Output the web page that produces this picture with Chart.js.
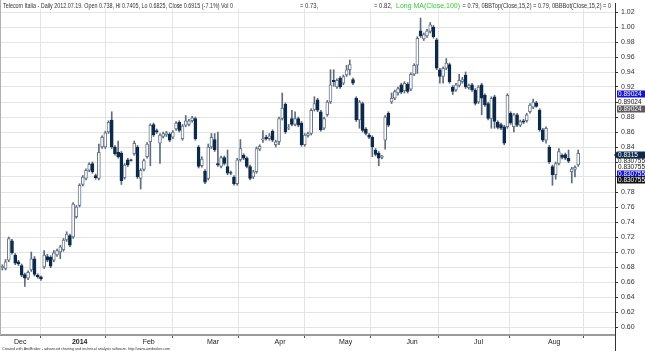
<!DOCTYPE html>
<html>
<head>
<meta charset="utf-8">
<script src="https://cdn.jsdelivr.net/npm/chart.js@4.4.1/dist/chart.umd.min.js"></script>
<style>
  html, body { margin: 0; padding: 0; background: #fff; }
</style>
</head>
<body>
<canvas id="chart" width="645" height="351"></canvas>
<script>
// daily candles, late Nov 2013 .. mid Aug 2014 (one entry per trading day)
var opens = [
  0.679,0.678,0.689,0.715,0.696,0.687,0.682,0.670,0.665,0.676,
  0.691,0.669,0.667,0.680,0.694,0.693,0.689,0.696,0.700,0.703,
  0.716,0.722,0.720,0.747,0.762,0.790,0.798,0.809,0.818,0.802,
  0.798,0.840,0.840,0.860,0.876,0.840,0.833,0.832,0.799,0.823,
  0.823,0.831,0.840,0.798,0.810,0.827,0.847,0.870,0.862,0.845,
  0.854,0.856,0.857,0.853,0.864,0.873,0.851,0.869,0.870,0.875,
  0.878,0.840,0.815,0.808,0.798,0.840,0.850,0.818,0.814,0.826,
  0.814,0.806,0.800,0.791,0.823,0.829,0.825,0.814,0.800,0.807,
  0.837,0.849,0.853,0.851,0.861,0.843,0.847,0.878,0.897,0.865,
  0.878,0.870,0.878,0.872,0.843,0.855,0.858,0.890,0.903,0.887,
  0.865,0.883,0.900,0.929,0.920,0.932,0.925,0.936,0.943,0.930,
  0.905,0.876,0.898,0.864,0.856,0.853,0.836,0.832,0.826,0.849,
  0.885,0.900,0.905,0.912,0.923,0.915,0.924,0.917,0.937,0.949,
  0.995,0.984,0.988,0.994,1.000,0.983,0.943,0.934,0.945,0.950,
  0.920,0.916,0.922,0.927,0.936,0.919,0.923,0.916,0.900,0.923,
  0.909,0.898,0.878,0.907,0.873,0.870,0.867,0.867,0.885,0.867,
  0.883,0.869,0.875,0.875,0.887,0.893,0.899,0.889,0.863,0.849,
  0.840,0.814,0.803,0.818,0.829,0.830,0.825,0.807,0.810,0.816
];
var highs = [
  0.683,0.690,0.720,0.717,0.698,0.689,0.684,0.672,0.675,0.700,
  0.694,0.671,0.668,0.702,0.697,0.695,0.702,0.704,0.709,0.718,
  0.727,0.724,0.766,0.762,0.791,0.802,0.811,0.819,0.820,0.804,
  0.844,0.855,0.861,0.875,0.887,0.842,0.848,0.834,0.818,0.825,
  0.824,0.848,0.842,0.811,0.824,0.846,0.871,0.872,0.864,0.858,
  0.860,0.861,0.859,0.862,0.874,0.875,0.870,0.882,0.877,0.881,
  0.880,0.842,0.827,0.810,0.844,0.858,0.858,0.860,0.828,0.828,
  0.836,0.808,0.802,0.825,0.850,0.831,0.827,0.816,0.809,0.840,
  0.843,0.862,0.856,0.858,0.863,0.849,0.880,0.912,0.899,0.870,
  0.889,0.887,0.880,0.874,0.858,0.860,0.891,0.907,0.905,0.889,
  0.880,0.902,0.943,0.943,0.931,0.934,0.936,0.949,0.956,0.932,
  0.907,0.902,0.900,0.866,0.858,0.855,0.838,0.834,0.829,0.882,
  0.887,0.912,0.916,0.920,0.925,0.927,0.926,0.939,0.951,0.987,
  1.012,0.992,0.997,1.006,1.002,0.985,0.945,0.947,0.958,0.952,
  0.922,0.925,0.937,0.933,0.940,0.924,0.925,0.918,0.922,0.925,
  0.911,0.900,0.907,0.909,0.875,0.872,0.869,0.911,0.887,0.885,
  0.885,0.876,0.877,0.885,0.898,0.904,0.901,0.891,0.865,0.867,
  0.842,0.816,0.820,0.838,0.831,0.832,0.836,0.813,0.815,0.836
];
var lows = [
  0.676,0.676,0.687,0.697,0.683,0.682,0.667,0.654,0.663,0.674,
  0.668,0.665,0.662,0.678,0.687,0.679,0.687,0.694,0.691,0.701,
  0.714,0.707,0.718,0.745,0.760,0.788,0.796,0.807,0.805,0.797,
  0.796,0.838,0.838,0.858,0.838,0.829,0.825,0.790,0.797,0.814,
  0.821,0.829,0.798,0.784,0.808,0.825,0.815,0.854,0.858,0.818,
  0.852,0.854,0.847,0.851,0.862,0.860,0.849,0.867,0.868,0.873,
  0.849,0.812,0.813,0.791,0.796,0.838,0.834,0.814,0.812,0.816,
  0.803,0.803,0.789,0.789,0.821,0.823,0.812,0.796,0.798,0.805,
  0.835,0.846,0.849,0.849,0.847,0.840,0.843,0.876,0.858,0.863,
  0.868,0.868,0.867,0.841,0.841,0.853,0.856,0.888,0.887,0.861,
  0.863,0.881,0.898,0.921,0.918,0.918,0.923,0.934,0.936,0.923,
  0.874,0.865,0.860,0.856,0.851,0.827,0.828,0.815,0.824,0.837,
  0.867,0.898,0.903,0.909,0.911,0.912,0.912,0.915,0.935,0.938,
  0.986,0.982,0.986,0.992,0.985,0.943,0.925,0.925,0.943,0.925,
  0.910,0.914,0.920,0.925,0.918,0.917,0.914,0.896,0.898,0.883,
  0.894,0.876,0.865,0.865,0.864,0.863,0.843,0.865,0.870,0.860,
  0.867,0.867,0.871,0.873,0.885,0.891,0.893,0.861,0.847,0.845,
  0.818,0.789,0.797,0.816,0.824,0.823,0.819,0.792,0.800,0.814
];
var closes = [
  0.681,0.687,0.718,0.699,0.685,0.684,0.669,0.665,0.673,0.691,
  0.670,0.667,0.664,0.696,0.689,0.681,0.699,0.702,0.707,0.716,
  0.724,0.709,0.764,0.760,0.789,0.800,0.809,0.817,0.807,0.799,
  0.833,0.853,0.859,0.873,0.840,0.831,0.827,0.795,0.816,0.816,
  0.822,0.845,0.800,0.809,0.822,0.844,0.869,0.856,0.860,0.856,
  0.858,0.859,0.849,0.860,0.872,0.862,0.868,0.875,0.875,0.879,
  0.851,0.814,0.824,0.793,0.840,0.853,0.836,0.816,0.826,0.818,
  0.805,0.805,0.791,0.823,0.838,0.825,0.814,0.798,0.807,0.838,
  0.841,0.851,0.851,0.855,0.849,0.847,0.878,0.892,0.860,0.866,
  0.870,0.878,0.869,0.843,0.856,0.858,0.889,0.898,0.889,0.863,
  0.878,0.900,0.923,0.927,0.929,0.920,0.934,0.943,0.950,0.925,
  0.876,0.900,0.862,0.858,0.853,0.840,0.830,0.825,0.828,0.880,
  0.869,0.905,0.914,0.918,0.913,0.925,0.914,0.937,0.949,0.985,
  0.988,0.990,0.995,1.003,0.987,0.945,0.934,0.945,0.952,0.927,
  0.914,0.923,0.929,0.930,0.920,0.922,0.916,0.898,0.920,0.905,
  0.896,0.878,0.905,0.874,0.866,0.865,0.845,0.909,0.872,0.883,
  0.869,0.874,0.873,0.883,0.896,0.900,0.894,0.863,0.849,0.865,
  0.820,0.803,0.818,0.834,0.826,0.825,0.821,0.811,0.813,0.8315
];

// x axis: first trading day of each month (bar index) and its label
var monthTickIdx = [3, 21, 43, 63, 84, 104, 125, 146, 169];
var monthNames = ['Dec', '2014', 'Feb', 'Mar', 'Apr', 'May', 'Jun', 'Jul', 'Aug'];

var yTickValues = [0.60,0.62,0.64,0.66,0.68,0.70,0.72,0.74,0.76,0.78,0.80,0.82,0.84,0.86,0.88,0.90,0.92,0.94,0.96,0.98,1.00,1.02];
var yTickHidden = [0.80, 0.82, 0.90];

// indicator values shown as boxes on the right axis
var priceMarks = [0.89024, 0.8315, 0.830755];

var titleMain = 'Telecom Italia - Daily 2012.07.19. Open 0.738, Hi 0.7405, Lo 0.6825, Close 0.6915 (-7.1%) Vol 0';
var titleParts = ['= 0.73,', '= 0.82, ', 'Long MA(Close,100)', ' = 0.79, 0BBTop(Close,15,2) = 0.79, 0BBBot(Close,15,2) = 0'];
var footerText = 'Created with AmiBroker - advanced charting and technical analysis software. http://www.amibroker.com';

var NAVY = '#0d2a4a';
var HOLLOW = '#687889';
var FONT = '"Liberation Sans", Arial, sans-serif';

var wickData = [], bodyData = [], bodyFill = [], bodyLine = [];
for (var i = 0; i < opens.length; i++) {
  var down = closes[i] < opens[i];
  wickData.push({ x: i, y: [lows[i], highs[i]] });
  bodyData.push({ x: i, y: [opens[i], closes[i]] });
  bodyFill.push(down ? NAVY : '#ffffff');
  bodyLine.push(down ? NAVY : HOLLOW);
}

var amiText = {
  id: 'amiText',
  afterDraw: function (chart) {
    var c = chart.ctx, ys = chart.scales.y, area = chart.chartArea;
    c.save();
    // frame lines
    c.strokeStyle = '#b0b0b0';
    c.lineWidth = 1;
    c.beginPath(); c.moveTo(0.5, 0); c.lineTo(0.5, area.bottom); c.stroke();
    c.strokeStyle = '#333';
    c.beginPath(); c.moveTo(area.right + 0.5, 3); c.lineTo(area.right + 0.5, 351); c.stroke();

    // header
    c.textBaseline = 'alphabetic';
    c.textAlign = 'left';
    c.font = '7px ' + FONT;
    c.fillStyle = '#333';
    c.fillText(titleMain, 3, 8, 230);
    c.fillText(titleParts[0], 300, 8, 18);
    c.fillText(titleParts[1], 374, 8, 20);
    c.fillStyle = '#33cc33';
    c.fillText(titleParts[2], 396, 8, 64);
    c.fillStyle = '#333';
    c.fillText(titleParts[3], 461, 8, 150);

    // footer
    c.font = '4px ' + FONT;
    c.fillStyle = '#333';
    c.fillText(footerText, 2, 350, 168);

    // right axis value boxes
    c.font = '6.5px ' + FONT;
    c.textBaseline = 'middle';
    function box(val, text, shift, bg, fg, arrow) {
      var y = Math.round(ys.getPixelForValue(val) + shift);
      var x0 = area.right + 2;
      if (bg) {
        c.fillStyle = bg;
        c.fillRect(x0, y - 3.5, 645 - x0, 7);
        if (arrow) {
          c.beginPath(); c.moveTo(x0, y - 3.5); c.lineTo(x0 - 3, y); c.lineTo(x0, y + 3.5); c.fill();
        }
      }
      c.fillStyle = fg;
      c.fillText(text, x0 + 1, y + 0.5, 645 - x0 - 1);
    }
    box(priceMarks[0], '0.89024', -15, '#1515cc', '#fff');
    box(priceMarks[0], '0.89024', -7.5, null, '#111');
    box(priceMarks[0], '0.89024', 0, '#5a5a5a', '#fff');
    box(priceMarks[1], '0.8315', 2, NAVY, '#fff', true);
    box(priceMarks[2], '0.830755', 7.5, null, '#111');
    box(priceMarks[2], '0.830755', 13.5, null, '#111');
    box(priceMarks[2], '0.830755', 20, '#1515cc', '#fff');
    box(priceMarks[2], '0.830755', 26.5, '#111', '#fff');
    c.restore();
  }
};

var ctx = document.getElementById('chart');
var chart = new Chart(ctx, {
  type: 'bar',
  data: {
    datasets: [{
      label: 'range',
      data: wickData,
      backgroundColor: '#5d6d80',
      barThickness: 1,
      grouped: false,
      order: 2
    }, {
      label: 'body',
      data: bodyData,
      backgroundColor: bodyFill,
      borderColor: bodyLine,
      borderWidth: 1,
      borderSkipped: false,
      barThickness: 3,
      grouped: false,
      order: 1
    }]
  },
  options: {
    responsive: false,
    animation: false,
    layout: { padding: { left: 0, top: 9, right: 0, bottom: 0 } },
    plugins: { legend: { display: false }, tooltip: { enabled: false }, title: { display: false } },
    scales: {
      x: {
        type: 'linear',
        offset: false,
        min: -0.7305,
        max: 190.44,
        afterBuildTicks: function (scale) {
          scale.ticks = monthTickIdx.map(function (v) { return { value: v }; });
        },
        afterFit: function (scale) { scale.height = 16; },
        grid: { color: '#e4e4e4', tickColor: '#555', tickLength: 3, drawOnChartArea: true },
        border: { color: '#9a9a9a', width: 2 },
        ticks: {
          autoSkip: false,
          maxRotation: 0,
          align: 'start',
          labelOffset: 2,
          padding: 0,
          color: '#222',
          font: function (c) {
            return { family: FONT, size: 7, weight: (c.tick && c.tick.value === 21) ? 'bold' : 'normal' };
          },
          callback: function (v) {
            var k = monthTickIdx.indexOf(v);
            return k >= 0 ? monthNames[k] : '';
          }
        }
      },
      y: {
        position: 'right',
        min: 1.02 - 323 / 750,
        max: 1.02 + 3 / 750,
        afterBuildTicks: function (scale) {
          scale.ticks = yTickValues.map(function (v) { return { value: v }; });
        },
        afterFit: function (scale) { scale.width = 30; },
        grid: { color: '#e4e4e4', tickColor: '#333', tickLength: 3 },
        border: { color: '#333', width: 1 },
        ticks: {
          padding: 3,
          color: '#333',
          font: { family: FONT, size: 7 },
          callback: function (v) {
            for (var k = 0; k < yTickHidden.length; k++) {
              if (Math.abs(v - yTickHidden[k]) < 1e-6) return '';
            }
            return v.toFixed(2);
          }
        }
      }
    }
  },
  plugins: [amiText]
});
</script>
</body>
</html>
